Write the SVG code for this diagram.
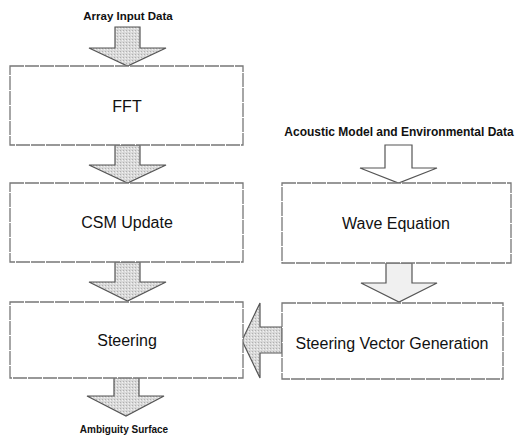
<svg xmlns="http://www.w3.org/2000/svg" width="517" height="435" viewBox="0 0 517 435">
<defs>
<pattern id="dots" width="3" height="3" patternUnits="userSpaceOnUse">
<rect width="3" height="3" fill="#d9d9d9"/>
<rect x="0" y="0" width="1" height="1" fill="#b0b0b0"/>
<rect x="2" y="1" width="1" height="1" fill="#f2f2f2"/>
</pattern>
</defs>
<style>
.box{fill:#fff;stroke:#777;stroke-width:1.3;stroke-dasharray:14 1}
.lbl{font-family:"Liberation Sans",Arial,sans-serif;font-size:16px;fill:#111;text-anchor:middle}
.sm{font-family:"Liberation Sans",Arial,sans-serif;font-size:11.5px;font-weight:bold;fill:#111;text-anchor:middle}
.arr{fill:url(#dots);stroke:#555;stroke-width:1.2;stroke-linejoin:miter}
.arrw{fill:#fff;stroke:#555;stroke-width:1.2}
.arrl{fill:#f0f0f0;stroke:#555;stroke-width:1.2}
</style>
<rect width="517" height="435" fill="#fff"/>
<g id="connectors">
<path class="arr" d="M115,27 H140 V48 H166 L127.5,66 L89,48 H115 Z"/>
<path class="arr" d="M115,145 H140 V165 H166 L127.5,183 L89,165 H115 Z"/>
<path class="arr" d="M115,262 H140 V282 H166 L127.5,301 L89,282 H115 Z"/>
<path class="arr" d="M114,377 H139 V396 H164 L126,416 L87,396 H114 Z"/>
<path class="arrw" d="M385,145 H412 V168 H437 L398.5,183 L360,168 H385 Z"/>
<path class="arrl" d="M386,263 H412 V283 H437 L399,302 L361,283 H386 Z"/>
<path class="arr" d="M282,327 H260 V303 L242,340.5 L260,378 V353 H282 Z"/>
</g>
<g id="label-array"><text class="sm" x="128" y="20">Array Input Data</text></g>
<g id="label-acoustic"><text class="sm" x="399" y="136" style="font-size:12px">Acoustic Model and Environmental Data</text></g>
<g id="label-ambiguity"><text class="sm" x="124" y="433" style="font-size:10px">Ambiguity Surface</text></g>
<g id="fft"><rect class="box" x="10" y="66" width="233" height="79"/><text class="lbl" x="127" y="112">FFT</text></g>
<g id="csm"><rect class="box" x="10" y="183" width="233" height="79"/><text class="lbl" x="127" y="228">CSM Update</text></g>
<g id="steering"><rect class="box" x="10" y="302" width="233" height="76"/><text class="lbl" x="127" y="346">Steering</text></g>
<g id="wave"><rect class="box" x="282" y="183" width="229" height="80"/><text class="lbl" x="396" y="229">Wave Equation</text></g>
<g id="svg-gen"><rect class="box" x="282" y="303" width="221" height="76"/><text class="lbl" x="392" y="349">Steering Vector Generation</text></g>
</svg>
